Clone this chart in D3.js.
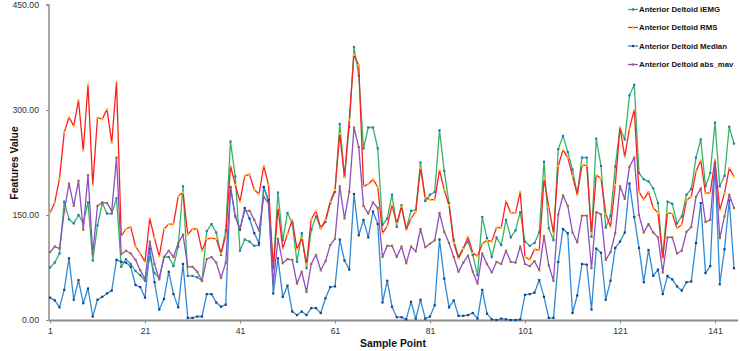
<!DOCTYPE html>
<html>
<head>
<meta charset="utf-8">
<script src="https://cdn.jsdelivr.net/npm/d3@7"></script>
<style>
  body { margin: 0; background: #fff; }
  svg { font-family: "Liberation Sans", Arial, sans-serif; }
  .axis text { fill: #333; font-size: 8.7px; }
  .axis path, .axis line { stroke: #8c8c8c; }
  .title { font-weight: bold; font-size: 10.4px; fill: #111; }
  g#legend text { font-weight: bold; font-size: 7.8px; fill: #111; }
</style>
</head>
<body>
<svg id="Vis" width="740" height="351">
  <g id="axes"></g>
  <g id="lines"></g>
  <g id="legend"></g>
</svg>
<script>
/*
* DATA
*/

const xTicks = [1, 21, 41, 61, 81, 101, 121, 141];
const yTicks = [0, 150, 300, 450];

const iemg = [75, 82, 95, 169, 144, 138, 150, 139, 168, 85, 135, 167, 152, 152, 174, 76, 87, 80, 70, 64,
  56, 90, 67, 60, 90, 90, 77, 105, 191, 63, 63, 61, 56, 127, 137, 125, 93, 128, 255, 205,
  99, 115, 112, 106, 107, 190, 169, 76, 182, 114, 153, 138, 83, 124, 74, 129, 148, 131, 140, 167,
  183, 280, 205, 276, 390, 349, 245, 275, 275, 245, 136, 145, 179, 133, 164, 130, 156, 157, 225, 170,
  179, 183, 271, 213, 167, 114, 90, 103, 112, 93, 64, 147, 117, 90, 118, 107, 143, 118, 128, 154,
  112, 106, 110, 125, 226, 131, 114, 244, 263, 240, 215, 180, 232, 232, 119, 259, 220, 132, 149, 219,
  274, 258, 321, 336, 210, 201, 198, 188, 167, 90, 169, 166, 138, 148, 179, 187, 232, 258, 191, 210,
  282, 191, 206, 276, 252];

const rms = [153, 168, 202, 268, 290, 277, 314, 242, 336, 193, 289, 287, 301, 253, 340, 120, 130, 133, 105, 95,
  83, 145, 117, 91, 130, 137, 137, 177, 182, 122, 130, 130, 99, 116, 117, 116, 95, 121, 220, 193,
  169, 206, 208, 186, 180, 220, 193, 71, 160, 102, 123, 143, 101, 117, 80, 144, 156, 131, 143, 169,
  186, 266, 204, 286, 379, 364, 191, 194, 201, 190, 124, 134, 164, 138, 162, 129, 145, 155, 217, 175,
  172, 172, 214, 186, 164, 110, 88, 102, 119, 96, 91, 109, 114, 112, 132, 132, 170, 153, 153, 183,
  90, 86, 101, 100, 201, 162, 124, 220, 243, 232, 206, 179, 221, 221, 124, 207, 202, 152, 133, 193,
  275, 233, 274, 300, 183, 172, 183, 160, 153, 88, 153, 152, 131, 136, 171, 176, 212, 228, 181, 182,
  229, 157, 181, 217, 205];

const median = [32, 28, 18, 43, 88, 29, 57, 24, 45, 5, 29, 33, 38, 42, 86, 83, 82, 76, 50, 47,
  32, 102, 54, 15, 30, 69, 37, 18, 80, 3, 3, 5, 5, 37, 37, 25, 19, 22, 190, 148,
  129, 160, 145, 124, 110, 190, 171, 38, 88, 33, 49, 12, 7, 12, 7, 17, 17, 10, 31, 47,
  48, 115, 85, 72, 180, 121, 143, 118, 155, 137, 25, 56, 19, 4, 4, 1, 26, 2, 29, 2,
  5, 21, 115, 59, 18, 28, 6, 6, 7, 10, 2, 43, 9, 1, 0, 2, 1, 0, 0, 1,
  36, 37, 39, 57, 33, 3, 3, 83, 130, 124, 10, 35, 80, 79, 15, 102, 96, 29, 56, 103,
  112, 125, 195, 147, 103, 54, 100, 63, 72, 37, 63, 58, 48, 42, 54, 55, 110, 167, 67, 77,
  224, 51, 101, 171, 74];

const absMav = [97, 105, 102, 155, 195, 163, 199, 129, 207, 95, 163, 168, 167, 156, 232, 94, 99, 95, 86, 71,
  58, 112, 80, 58, 90, 99, 90, 110, 122, 76, 76, 69, 56, 87, 90, 82, 60, 82, 190, 148,
  131, 156, 156, 143, 128, 176, 167, 52, 116, 81, 87, 86, 52, 69, 40, 80, 93, 71, 84, 107,
  116, 191, 145, 183, 275, 247, 163, 152, 168, 160, 90, 106, 106, 90, 105, 81, 105, 98, 130, 104,
  109, 114, 153, 126, 110, 90, 69, 82, 92, 69, 52, 95, 80, 68, 83, 80, 99, 83, 82, 105,
  80, 77, 84, 71, 120, 78, 56, 151, 178, 163, 125, 111, 149, 149, 74, 154, 151, 86, 97, 124,
  191, 173, 219, 232, 150, 125, 137, 125, 118, 68, 118, 118, 95, 99, 126, 133, 176, 188, 140, 143,
  226, 117, 148, 179, 160];

const seriesNames = ["Anterior Deltoid iEMG", "Anterior Deltoid RMS", "Anterior Deltoid Median", "Anterior Deltoid abs_mav"];
const lineColors = ["#35b467", "#ff1f1f", "#2f8ad6", "#8d4fc0"];
const markColors = ["#2e6fc4", "#ffc21a", "#1c3f7a", "#a0702a"];

/*
* SETUP
*/

const svg = d3.select("svg#Vis");

const g = {
  axes: svg.select("g#axes"),
  lines: svg.select("g#lines"),
  legend: svg.select("g#legend")
};

const series = [iemg, rms, median, absMav].map((values, i) => ({
  name: seriesNames[i],
  line: lineColors[i],
  mark: markColors[i],
  values: values.map((v, j) => ({ x: j + 1, y: v }))
}));

const x = d3.scaleLinear().domain([1, 145]).range([50, 734]);
const y = d3.scaleLinear().domain([0, 450]).range([320, 5]);

/*
* AXES
*/

const yAxis = d3.axisLeft(y)
  .tickValues(yTicks)
  .tickFormat(d3.format(".2f"))
  .tickSize(3)
  .tickPadding(7);

g.axes.append("g")
  .attr("class", "axis")
  .attr("transform", "translate(49,0)")
  .call(yAxis)
  .call(a => a.select(".domain").attr("d", "M-3,5H0V320.5").attr("stroke-width", 1.5));

const xAxis = d3.axisBottom(x)
  .tickValues(xTicks)
  .tickSize(3)
  .tickPadding(4);

g.axes.append("g")
  .attr("class", "axis")
  .attr("transform", "translate(0,320.5)")
  .call(xAxis)
  .call(a => a.select(".domain").attr("d", "M49,0H738").attr("stroke-width", 2));

g.axes.append("text")
  .attr("class", "title")
  .attr("text-anchor", "middle")
  .attr("transform", "translate(18,163) rotate(-90)")
  .text("Features Value");

g.axes.append("text")
  .attr("class", "title")
  .attr("text-anchor", "middle")
  .attr("x", 393)
  .attr("y", 347)
  .text("Sample Point");

/*
* LINES
*/

const line = d3.line().x(d => x(d.x)).y(d => y(d.y));

series.forEach(s => {
  const sg = g.lines.append("g");
  sg.append("path")
    .datum(s.values)
    .attr("fill", "none")
    .attr("stroke", s.line)
    .attr("stroke-width", 1.3)
    .attr("stroke-linejoin", "round")
    .attr("d", line);
  sg.selectAll("rect")
    .data(s.values)
    .join("rect")
    .attr("x", d => x(d.x) - 1.1)
    .attr("y", d => y(d.y) - 1.1)
    .attr("width", 2.2)
    .attr("height", 2.2)
    .attr("fill", s.mark);
});

/*
* LEGEND
*/

const items = g.legend.selectAll("g.item")
  .data(series)
  .join("g")
  .attr("class", "item")
  .attr("transform", (d, i) => translate(628, [9.5, 27.5, 46, 64.5][i]));

items.append("line")
  .attr("x1", 0).attr("x2", 10)
  .attr("stroke", d => d.line)
  .attr("stroke-width", 1.3);

items.append("rect")
  .attr("x", 3.9).attr("y", -1.1)
  .attr("width", 2.2).attr("height", 2.2)
  .attr("fill", d => d.mark);

items.append("text")
  .attr("x", 11)
  .attr("dy", "0.35em")
  .style("font-size", "7.8px")
  .style("font-weight", "bold")
  .text(d => d.name);

/*
* HELPER FUNCTIONS
*/

function translate(x, y) {
  return 'translate(' + String(x) + ',' + String(y) + ')';
}
</script>
</body>
</html>
